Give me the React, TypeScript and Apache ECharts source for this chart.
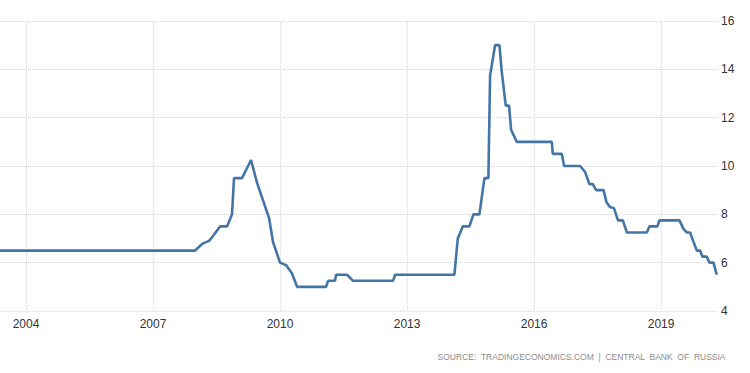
import React, { useEffect, useRef } from "react";
import * as echarts from "echarts";

// Decimal-year positions of the line's vertices and the interest rate (%) at each
const dates: number[] = [
  2003.386, 2007.992, 2008.181, 2008.323, 2008.394, 2008.583, 2008.748, 2008.866, 2008.913,
  2009.102, 2009.315, 2009.457, 2009.74, 2009.835, 2010.0, 2010.142, 2010.283, 2010.402,
  2011.087, 2011.134, 2011.299, 2011.323, 2011.583, 2011.724, 2012.669, 2012.717,
  2014.118, 2014.198, 2014.316, 2014.472, 2014.567, 2014.709, 2014.827, 2014.921, 2014.961,
  2015.079, 2015.181, 2015.237, 2015.331, 2015.409, 2015.457, 2015.591, 2016.418, 2016.442,
  2016.654, 2016.709, 2017.087, 2017.205, 2017.307, 2017.387, 2017.465, 2017.64, 2017.71,
  2017.793, 2017.888, 2017.982, 2018.096, 2018.19, 2018.662, 2018.724, 2018.913, 2018.96,
  2019.433, 2019.528, 2019.606, 2019.685, 2019.763, 2019.843, 2019.921, 2019.976, 2020.079,
  2020.142, 2020.236, 2020.315,
];
const rates: number[] = [
  6.5, 6.5, 6.8, 6.9, 7.05, 7.5, 7.5, 8.0, 9.5,
  9.5, 10.25, 9.3, 7.85, 6.85, 6.0, 5.9, 5.55, 5.0,
  5.0, 5.25, 5.25, 5.5, 5.5, 5.25, 5.25, 5.5,
  5.5, 7.0, 7.5, 7.5, 8.0, 8.0, 9.5, 9.5, 13.75,
  15.0, 15.0, 13.9, 12.5, 12.5, 11.5, 11.0, 11.0, 10.5,
  10.5, 10.0, 10.0, 9.75, 9.25, 9.25, 9.0, 9.0, 8.5,
  8.3, 8.25, 7.75, 7.75, 7.25, 7.25, 7.5, 7.5, 7.75,
  7.75, 7.4, 7.25, 7.25, 6.87, 6.5, 6.5, 6.25, 6.25,
  6.0, 6.0, 5.5,
];
const yearTicks: number[] = [2004, 2007, 2010, 2013, 2016, 2019];
const sourceText = "SOURCE:  TRADINGECONOMICS.COM  |  CENTRAL  BANK  OF  RUSSIA";

export default function App() {
  const ref = useRef<HTMLDivElement>(null);
  useEffect(() => {
    if (!ref.current) return;
    const chart = echarts.init(ref.current, undefined, { renderer: "svg" });
    const data = dates.map((d, i) => [d, rates[i]]);
    chart.setOption({
      animation: false,
      backgroundColor: "#ffffff",
      grid: { left: 0, right: 33, top: 21, bottom: 62, containLabel: false },
      xAxis: {
        type: "value",
        min: 2003.386,
        max: 2020.32,
        axisLine: { show: false },
        axisTick: { show: false, customValues: yearTicks },
        axisLabel: {
          customValues: yearTicks,
          formatter: (v: number) => String(Math.round(v)),
          color: "#333333",
          fontSize: 12,
          fontFamily: "Liberation Sans, Arial, sans-serif",
          margin: 7,
        },
        splitLine: { show: true, lineStyle: { color: "#d8d8d8", type: "dotted", width: 1 } },
      },
      yAxis: {
        type: "value",
        position: "right",
        min: 4,
        max: 16,
        interval: 2,
        axisLine: { show: false },
        axisTick: { show: false },
        axisLabel: {
          color: "#333333",
          fontSize: 12,
          fontFamily: "Liberation Sans, Arial, sans-serif",
          margin: 4,
        },
        splitLine: { show: true, lineStyle: { color: "#d8d8d8", type: "dotted", width: 1 } },
      },
      graphic: [
        {
          type: "text",
          right: 24,
          top: 352,
          style: {
            text: sourceText,
            fill: "#8c8c8c",
            font: "8.5px 'Liberation Sans', Arial, sans-serif",
          },
        },
      ],
      series: [
        {
          type: "line",
          data,
          symbol: "none",
          lineStyle: { color: "#4375a6", width: 2.6 },
        },
      ],
    });
    return () => chart.dispose();
  }, []);
  return (
    <div
      ref={ref}
      style={{ position: "absolute", left: 0, top: 0, width: 750, height: 373 }}
    />
  );
}
